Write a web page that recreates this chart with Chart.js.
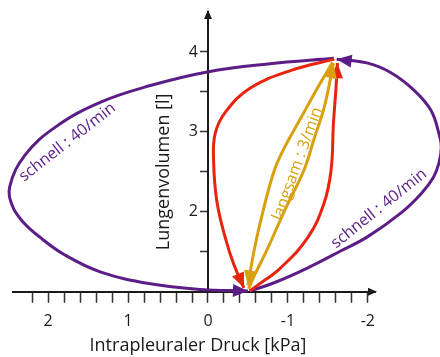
<!DOCTYPE html>
<html lang="de">
<head>
<meta charset="utf-8">
<title>Druck-Volumen-Schleifen</title>
<script src="https://cdn.jsdelivr.net/npm/chart.js@4.4.1/dist/chart.umd.min.js"></script>
<style>
  html, body { margin: 0; padding: 0; background: #fff; }
</style>
</head>
<body>
<canvas id="loops" width="440" height="357"></canvas>
<script>
// ---------- data: [intrapleural pressure kPa, lung volume l] ----------
// fast breathing (40/min): inspiration goes round the right, expiration round the left
const schnellEin = [[-0.52, 1.01], [-0.82, 1.11], [-1.25, 1.30], [-1.66, 1.51], [-2.00, 1.69],
  [-2.42, 1.99], [-2.67, 2.23], [-2.82, 2.43], [-2.89, 2.61], [-2.92, 2.81], [-2.89, 2.98],
  [-2.79, 3.27], [-2.58, 3.52], [-2.29, 3.74], [-2.00, 3.86], [-1.61, 3.91]];
const schnellAus = [[-1.575, 3.92], [-0.75, 3.85], [0.01, 3.75], [0.72, 3.58], [1.35, 3.37],
  [1.91, 3.06], [2.29, 2.71], [2.48, 2.32], [2.45, 2.08], [2.32, 1.88], [2.10, 1.68],
  [1.79, 1.46], [1.35, 1.25], [0.72, 1.10], [0.09, 1.03], [-0.50, 1.01]];
// medium breathing rate
const mittelEin = [[-0.52, 1.01], [-0.62, 1.08], [-0.91, 1.30], [-1.25, 1.68], [-1.45, 2.10],
  [-1.54, 2.52], [-1.57, 3.11], [-1.60, 3.52], [-1.62, 3.86]];
const mittelAus = [[-1.58, 3.91], [-1.04, 3.77], [-0.53, 3.55], [-0.22, 3.25], [-0.09, 2.98],
  [-0.07, 2.64], [-0.11, 2.14], [-0.21, 1.70], [-0.32, 1.35], [-0.45, 1.05]];
// slow breathing (3/min)
const langsamEin = [[-0.51, 1.04], [-0.57, 1.18], [-0.75, 1.55], [-0.96, 2.02], [-1.20, 2.52],
  [-1.33, 2.92], [-1.46, 3.33], [-1.57, 3.86]];
const langsamAus = [[-1.56, 3.87], [-1.37, 3.55], [-1.16, 3.17], [-0.95, 2.79], [-0.82, 2.49],
  [-0.66, 1.89], [-0.57, 1.48], [-0.50, 1.08]];

const xTicks = [-2, -1.8, -1.6, -1.4, -1.2, -1, -0.8, -0.6, -0.4, -0.2, 0,
  0.2, 0.4, 0.6, 0.8, 1, 1.2, 1.4, 1.6, 1.8, 2, 2.2];
const xLabels = [-2, -1, 0, 1, 2];
const yTicks = [1.5, 2, 2.5, 3, 3.5, 4];
const yLabels = [2, 3, 4];

const PURPLE = '#5c1e86';
const RED = '#e8240f';
const ORANGE = '#d8a00c';
const INK = '#1a1a1a';
const FONT = "'Open Sans', sans-serif";

const curveLabels = [
  { text: 'schnell : 40/min', at: [1.76, 2.87], angle: -38, color: PURPLE },
  { text: 'schnell : 40/min', at: [-2.14, 2.04], angle: -38.5, color: PURPLE },
  { text: 'langsam : 3/min', at: [-1.12, 2.60], angle: -70, color: ORANGE }
];

const toPoints = arr => arr.map(([x, y]) => ({ x, y }));

function branch(arr, color, order) {
  return {
    data: toPoints(arr),
    showLine: true,
    borderColor: color,
    backgroundColor: color,
    borderWidth: 3,
    pointRadius: 0,
    tension: 0.4,
    clip: false,
    order: order
  };
}

function triangle(ctx, tx, ty, fx, fy, len, half, color) {
  const a = Math.atan2(ty - fy, tx - fx);
  ctx.save();
  ctx.translate(tx, ty);
  ctx.rotate(a);
  ctx.beginPath();
  ctx.moveTo(0, 0);
  ctx.lineTo(-len, -half);
  ctx.lineTo(-len, half);
  ctx.closePath();
  ctx.fillStyle = color;
  ctx.fill();
  ctx.restore();
}

function rotatedText(ctx, text, px, py, deg, font, color) {
  ctx.save();
  ctx.translate(px, py);
  ctx.rotate(deg * Math.PI / 180);
  ctx.font = font;
  ctx.fillStyle = color;
  ctx.textAlign = 'center';
  ctx.textBaseline = 'middle';
  ctx.fillText(text, 0, 0);
  ctx.restore();
}

// arrowheads, axis arrows, axis titles, y labels and curve texts
const decorations = {
  id: 'decorations',
  afterDatasetsDraw(chart) {
    const { ctx } = chart;
    chart.data.datasets.forEach((ds, i) => {
      const pts = chart.getDatasetMeta(i).data;
      const tip = pts[pts.length - 1];
      const prev = pts[pts.length - 2];
      triangle(ctx, tip.x, tip.y, prev.x, prev.y, 15, 6.5, ds.borderColor);
    });
  },
  afterDraw(chart) {
    const { ctx, chartArea, scales: { x, y } } = chart;
    const x0 = x.getPixelForValue(0);
    const y0 = y.getPixelForValue(1);
    triangle(ctx, chartArea.right + 2, y0, chartArea.right - 8, y0, 9, 4, INK);
    triangle(ctx, x0, chartArea.top - 2, x0, chartArea.top + 8, 9, 4, INK);

    // the y axis sits at 0 kPa, so its numbers go just left of the tick marks
    ctx.save();
    ctx.font = '16px ' + FONT;
    ctx.fillStyle = INK;
    ctx.textAlign = 'right';
    ctx.textBaseline = 'middle';
    yLabels.forEach(v => ctx.fillText(String(v), x0 - 10, y.getPixelForValue(v)));
    ctx.restore();

    rotatedText(ctx, 'Lungenvolumen [l]', x0 - 44, y.getPixelForValue(2.5), -90, '18px ' + FONT, INK);
    rotatedText(ctx, 'Intrapleuraler Druck [kPa]', x0 - 10, y0 + 54, 0, '18px ' + FONT, INK);

    curveLabels.forEach(l => {
      rotatedText(ctx, l.text, x.getPixelForValue(l.at[0]), y.getPixelForValue(l.at[1]),
        l.angle, '16px ' + FONT, l.color);
    });
  }
};

Chart.defaults.font.family = FONT;
Chart.defaults.color = INK;

new Chart(document.getElementById('loops'), {
  type: 'scatter',
  data: {
    datasets: [
      branch(schnellEin, PURPLE, 3),
      branch(schnellAus, PURPLE, 3),
      branch(mittelEin, RED, 2),
      branch(mittelAus, RED, 2),
      branch(langsamEin, ORANGE, 1),
      branch(langsamAus, ORANGE, 1)
    ]
  },
  options: {
    responsive: false,
    animation: false,
    layout: { padding: { left: 13, right: 65, top: 12, bottom: 17 } },
    elements: { line: { capBezierPoints: false } },
    plugins: { legend: { display: false }, tooltip: { enabled: false } },
    scales: {
      x: {
        type: 'linear',
        reverse: true,
        min: -2.09,
        max: 2.44,
        position: 'bottom',
        afterBuildTicks: s => { s.ticks = xTicks.map(v => ({ value: v })); },
        ticks: {
          autoSkip: false,
          maxRotation: 0,
          padding: 9,
          font: { size: 16 },
          callback: v => xLabels.includes(v) ? String(v) : ''
        },
        grid: { drawOnChartArea: false, tickLength: 11, tickColor: '#333', tickWidth: 1.5 },
        border: { display: true, color: INK, width: 2 }
      },
      y: {
        type: 'linear',
        min: 1,
        max: 4.5,
        position: { x: 0 },
        afterBuildTicks: s => { s.ticks = yTicks.map(v => ({ value: v })); },
        ticks: { display: false },
        grid: { drawOnChartArea: false, tickLength: 7, tickColor: '#333', tickWidth: 1.5 },
        border: { display: true, color: INK, width: 2 }
      }
    }
  },
  plugins: [decorations]
});
</script>
</body>
</html>
